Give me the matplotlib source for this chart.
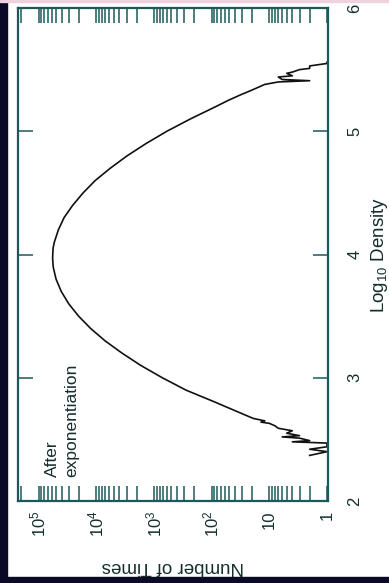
import matplotlib
matplotlib.use("Agg")
import matplotlib.pyplot as plt
from matplotlib.patches import Rectangle
from matplotlib.ticker import LogLocator, NullFormatter

plt.rcParams['font.family'] = ['Liberation Sans', 'DejaVu Sans']
plt.rcParams['mathtext.fontset'] = 'custom'
plt.rcParams['mathtext.rm'] = 'Liberation Sans'
plt.rcParams['mathtext.it'] = 'Liberation Sans:italic'
plt.rcParams['mathtext.default'] = 'regular'

# Log10 density (bin centre) and number of times
log_density = [2.37, 2.40, 2.42, 2.44, 2.47, 2.48, 2.49, 2.51, 2.52, 2.53,
               2.55, 2.57, 2.59, 2.61, 2.63, 2.64, 2.65, 2.67, 2.70, 2.72,
               2.75, 2.78, 2.80, 2.85, 2.90, 3.00, 3.10, 3.20, 3.30, 3.40,
               3.50, 3.60, 3.70, 3.80, 3.90, 3.97, 4.05, 4.10, 4.20, 4.30,
               4.40, 4.50, 4.60, 4.70, 4.80, 4.90, 5.00, 5.10, 5.20, 5.25,
               5.30, 5.33, 5.36, 5.38, 5.40, 5.41, 5.42, 5.44, 5.45, 5.47,
               5.48, 5.50, 5.51, 5.53, 5.55, 5.56]
n_times = [2, 1, 2, 1, 1, 4, 2, 3, 6, 3,
           5, 4, 7, 8, 10, 14, 12, 19, 27, 34,
           48, 68, 85, 155, 280, 720, 1700, 3600, 7100, 12600,
           20400, 30200, 40700, 50100, 56200, 57500, 56500, 53700, 45700, 36300,
           25700, 17000, 10500, 5750, 2950, 1380, 600, 234, 85, 52,
           30, 21, 15, 12, 7, 2, 6, 7, 4, 5,
           4, 3, 2, 2, 1, 1]

count_ticks = [1e5, 1e4, 1e3, 1e2, 10, 1]
count_labels = ['$10^5$', '$10^4$', '$10^3$', '$10^2$', '10', '1']
density_ticks = [2, 3, 4, 5, 6]
density_labels = ['2', '3', '4', '5', '6']

frame_col = '#1b5a5a'
text_col = '#142e2e'

W, H = 389, 583
fig = plt.figure(figsize=(W / 100, H / 100), dpi=100, facecolor='white')

# dark border strips of the slide
fig.patches.append(Rectangle((0, 0), 7 / W, 1, transform=fig.transFigure,
                             color='#0a0a26', zorder=0))
fig.patches.append(Rectangle((0, 0), 1, 6 / H, transform=fig.transFigure,
                             color='#0a0a26', zorder=0))
fig.patches.append(Rectangle((0, 1 - 2 / H), 1, 2 / H, transform=fig.transFigure,
                             color='#efd2de', zorder=0))

# chart is shown rotated: counts run right-to-left, density bottom-to-top
ax = fig.add_axes([18 / W, 1 - 501 / H, 310 / W, 493 / H])
ax.plot(n_times, log_density, color='#111111', lw=1.2)

ax.set_xscale('log')
ax.set_xlim(10 ** 5.36, 10 ** -0.017)
ax.set_ylim(2, 6)

ax.set_xticks(count_ticks)
ax.set_xticklabels(count_labels)
ax.xaxis.set_minor_locator(LogLocator(base=10, subs=range(2, 10), numticks=20))
ax.xaxis.set_minor_formatter(NullFormatter())
ax.set_yticks(density_ticks)
ax.set_yticklabels(density_labels)

for s in ax.spines.values():
    s.set_color(frame_col)
    s.set_linewidth(1.6)

ax.tick_params(axis='x', which='both', direction='in', top=True, bottom=True,
               length=10.5, width=1.1, color=frame_col, labelrotation=90,
               labelsize=12, labelcolor=text_col, pad=7)
ax.tick_params(axis='y', which='both', direction='in', left=True, right=True,
               labelleft=False, labelright=True, length=10.5, width=1.1,
               color=frame_col, labelrotation=90, labelsize=12,
               labelcolor=text_col, pad=14)
for lab in ax.get_yticklabels():
    lab.set_va('center')

fig.text(173 / W, 1 - 566 / H, 'Number of Times', rotation=180, ha='center',
         va='center', fontsize=13.5, color=text_col)
fig.text(380 / W, 1 - 255 / H, 'Log$_{10}$ Density', rotation=90, ha='center',
         va='center', fontsize=13.5, color=text_col)
fig.text(45 / W, 1 - 477 / H, 'After\nexponentiation', rotation=90, ha='left',
         va='bottom', multialignment='left', linespacing=1.35, fontsize=12.5,
         color=text_col)

fig.savefig('out.png', dpi=100, facecolor='white')
